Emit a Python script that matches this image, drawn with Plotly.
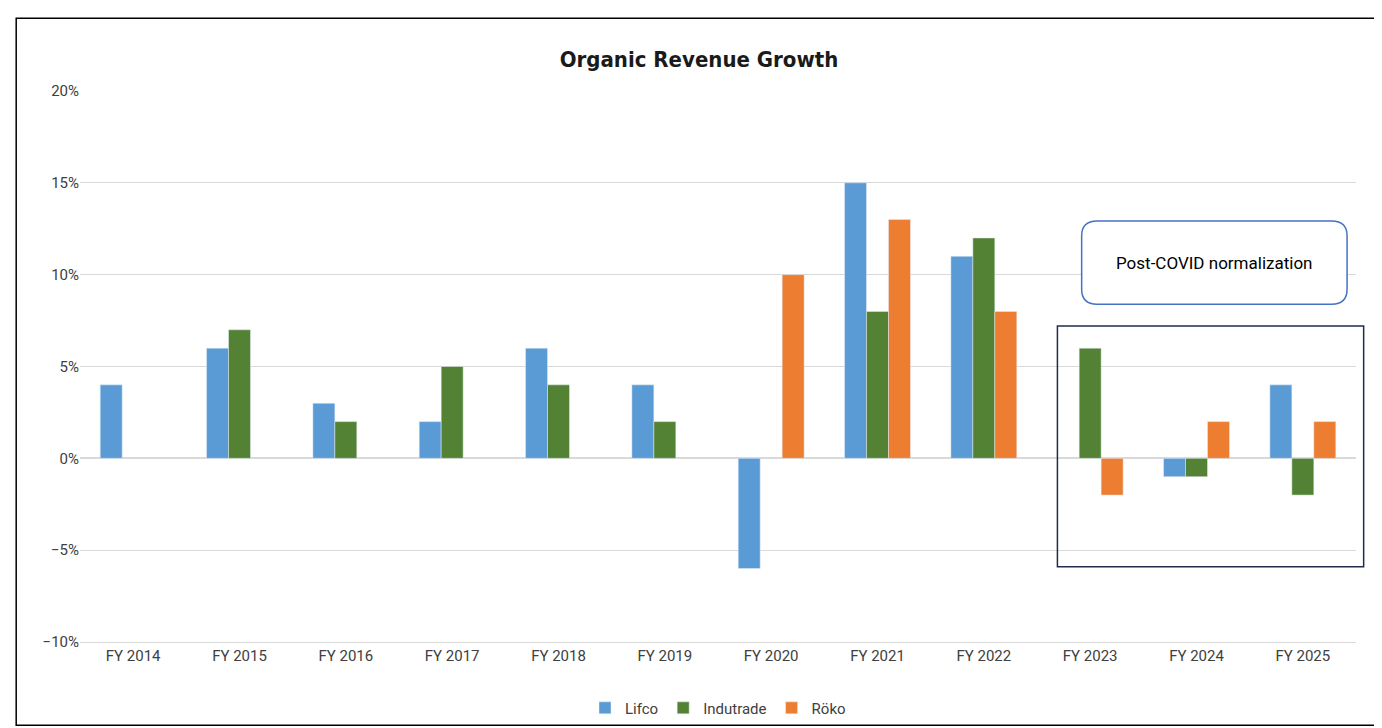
import plotly.graph_objects as go

years = ["FY 2014", "FY 2015", "FY 2016", "FY 2017", "FY 2018", "FY 2019",
         "FY 2020", "FY 2021", "FY 2022", "FY 2023", "FY 2024", "FY 2025"]
lifco = [4, 6, 3, 2, 6, 4, -6, 15, 11, None, -1, 4]
indutrade = [None, 7, 2, 5, 4, 2, None, 8, 12, 6, -1, -2]
roko = [None, None, None, None, None, None, 10, 13, 8, -2, 2, 2]

fig = go.Figure()
fig.add_trace(go.Bar(x=years, y=lifco, name="Lifco", marker_color="#5B9BD5"))
fig.add_trace(go.Bar(x=years, y=indutrade, name="Indutrade", marker_color="#548235"))
fig.add_trace(go.Bar(x=years, y=roko, name="Röko", marker_color="#ED7D31"))

def rounded(x0, y0, x1, y1, rx, ry):
    return (f"M {x0+rx},{y0} L {x1-rx},{y0} Q {x1},{y0} {x1},{y0+ry} "
            f"L {x1},{y1-ry} Q {x1},{y1} {x1-rx},{y1} L {x0+rx},{y1} "
            f"Q {x0},{y1} {x0},{y1-ry} L {x0},{y0+ry} Q {x0},{y0} {x0+rx},{y0} Z")

fig.add_shape(type="rect", xref="paper", yref="y", x0=0.766, x1=1.006, y0=-5.9, y1=7.2,
              line=dict(color="#1F2D4A", width=1.5))
fig.add_shape(type="path", xref="paper", yref="paper",
              path=rounded(0.785, 0.613, 0.993, 0.764, 0.012, 0.027),
              line=dict(color="#4472C4", width=1.5), fillcolor="white")
fig.add_annotation(x=0.889, y=0.688, xref="paper", yref="paper", showarrow=False,
                   xanchor="center", yanchor="middle",
                   text="Post-COVID normalization", font=dict(size=17, color="black"))
fig.add_shape(type="rect", xref="paper", yref="paper", x0=-0.050, x1=1.016, y0=-0.151, y1=1.132,
              line=dict(color="black", width=1.5))

fig.update_layout(
    width=1382, height=728, plot_bgcolor="white", paper_bgcolor="white",
    margin=dict(l=72, r=34, t=83, b=94, autoexpand=False),
    font=dict(family="Roboto", size=15, color="#404040"),
    title=dict(text="<b>Organic Revenue Growth</b>", x=0.5, y=0.94, xanchor="center",
               font=dict(family="DejaVu Sans Condensed", size=22, color="#1a1a1a")),
    barmode="group", bargap=0.38, bargroupgap=0,
    legend=dict(orientation="h", x=0.5, xanchor="center", y=-0.09, yanchor="top",
                font=dict(size=15), bgcolor="rgba(0,0,0,0)"),
    showlegend=True,
)
fig.update_yaxes(range=[-10, 20], dtick=5, ticksuffix="%", gridcolor="#D9D9D9",
                 zeroline=True, zerolinecolor="#D9D9D9", showline=False, automargin=False)
fig.update_xaxes(showline=True, linecolor="#D9D9D9", ticks="", automargin=False)

fig.write_html("out.html")
